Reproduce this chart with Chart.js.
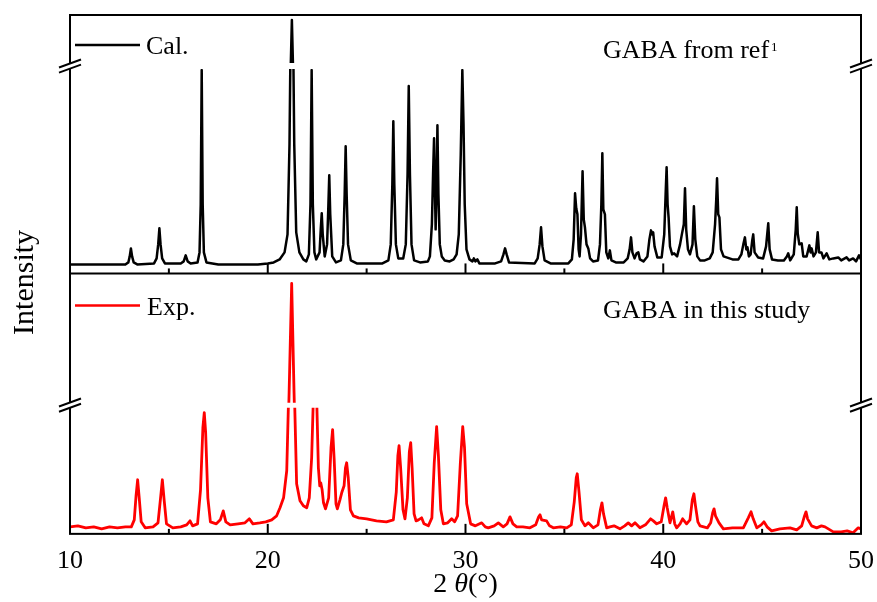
<!DOCTYPE html>
<html><head><meta charset="utf-8">
<script src="https://cdn.jsdelivr.net/npm/chart.js@4.4.1/dist/chart.umd.min.js"></script>
<style>html,body{margin:0;padding:0;background:#fff;}#wrap{width:877px;height:602px;}</style>
</head><body><div id="wrap"><canvas id="c" width="877" height="602"></canvas></div>
<script>
// ---- data (2θ in degrees, intensity in arbitrary units) ----
const calTheta = [10.0,12.8,12.95,13.02,13.08,13.14,13.22,13.4,14.25,14.38,14.46,14.52,14.58,14.66,14.8,15.6,15.75,15.85,15.95,16.1,16.45,16.55,16.61,16.66,16.71,16.77,16.9,17.5,19.5,20.0,20.3,20.6,20.85,21.0,21.1,21.16,21.22,21.28,21.34,21.44,21.6,21.8,21.95,22.08,22.16,22.22,22.28,22.36,22.45,22.62,22.68,22.73,22.78,22.88,23.0,23.06,23.11,23.16,23.26,23.45,23.7,23.82,23.89,23.94,23.99,24.06,24.2,24.5,25.8,26.1,26.22,26.3,26.35,26.4,26.48,26.6,26.85,26.98,27.07,27.13,27.19,27.27,27.4,27.7,28.1,28.2,28.3,28.36,28.41,28.49,28.54,28.58,28.63,28.7,28.8,28.95,29.2,29.4,29.55,29.66,29.76,29.84,29.9,29.96,30.05,30.2,30.35,30.42,30.5,30.6,30.7,31.5,31.8,31.92,32.0,32.08,32.2,33.5,33.65,33.75,33.82,33.89,34.0,34.3,35.2,35.38,35.47,35.54,35.6,35.66,35.72,35.77,35.84,35.92,35.98,36.04,36.12,36.21,36.3,36.45,36.7,36.8,36.87,36.92,36.97,37.05,37.12,37.22,37.3,37.38,37.6,38.0,38.2,38.3,38.37,38.44,38.55,38.65,38.74,38.82,39.0,39.2,39.3,39.38,39.44,39.49,39.56,39.7,39.92,40.05,40.12,40.17,40.22,40.27,40.34,40.45,40.55,40.7,40.85,40.95,41.04,41.1,41.16,41.25,41.35,41.48,41.55,41.62,41.72,41.86,42.1,42.35,42.5,42.62,42.68,42.72,42.78,42.84,42.92,43.05,43.2,43.5,43.8,43.95,44.05,44.13,44.2,44.26,44.33,44.42,44.5,44.55,44.62,44.8,45.05,45.2,45.31,45.38,45.5,45.8,46.1,46.25,46.32,46.42,46.6,46.7,46.75,46.8,46.88,47.0,47.08,47.25,47.39,47.45,47.5,47.6,47.72,47.81,47.88,48.0,48.1,48.26,48.4,48.6,48.85,49.0,49.27,49.4,49.6,49.75,49.9,50.0];
const calIntensity = [0,0,2,8,16,8,2,0,1,6,20,36,20,6,1,1,3,9,3,1,2,12,60,194,60,12,2,0,0,1,2,5,12,30,120,235,283,235,120,32,12,5,3,10,60,194,60,12,5,12,35,51,30,8,20,55,89,50,8,2,4,20,70,118,70,20,4,1,1,4,20,80,143,80,20,6,6,20,90,178,90,20,4,2,3,8,40,90,126,35,80,139,70,20,8,4,3,5,10,30,110,194,140,60,15,5,3,6,3,5,1,1,3,10,16,10,2,1,6,20,37,18,4,1,1,5,25,71,56,50,15,8,30,93,45,37,20,16,6,3,4,20,60,111,55,50,12,6,14,4,2,2,6,15,27,12,6,11,12,5,3,8,25,34,30,32,18,7,7,30,70,97,60,47,18,10,11,8,20,31,40,76,35,15,10,20,58,25,8,4,4,6,12,40,65,86,50,47,15,8,7,5,5,10,20,27,15,17,8,10,24,30,12,7,6,18,41,15,5,4,4,8,11,4,10,35,57,31,20,21,8,8,19,12,16,8,12,32,12,12,6,11,5,6,7,4,7,4,6,3,9,5];
const expTheta = [10.0,10.4,10.8,11.2,11.6,12.0,12.4,12.8,13.1,13.25,13.34,13.42,13.5,13.6,13.8,14.2,14.45,14.58,14.67,14.76,14.88,15.2,15.6,15.9,16.07,16.2,16.45,16.6,16.72,16.79,16.86,16.97,17.1,17.4,17.6,17.75,17.88,18.1,18.5,18.85,19.07,19.25,19.6,19.9,20.2,20.45,20.62,20.8,20.96,21.08,21.21,21.33,21.46,21.63,21.8,21.97,22.1,22.22,22.3,22.39,22.48,22.56,22.63,22.68,22.75,22.82,22.92,23.08,23.2,23.28,23.36,23.45,23.52,23.65,23.74,23.86,23.93,23.99,24.07,24.18,24.33,24.6,25.0,25.5,26.0,26.35,26.5,26.58,26.64,26.72,26.84,26.94,27.06,27.16,27.23,27.3,27.4,27.5,27.62,27.78,27.9,28.12,28.3,28.42,28.54,28.63,28.75,28.88,29.1,29.3,29.45,29.6,29.74,29.86,29.95,30.06,30.26,30.5,30.82,31.0,31.15,31.45,31.66,31.91,32.1,32.25,32.4,32.59,32.9,33.26,33.55,33.7,33.77,33.85,34.1,34.25,34.44,34.8,35.12,35.35,35.5,35.6,35.65,35.74,35.86,36.04,36.21,36.46,36.7,36.82,36.9,36.98,37.14,37.3,37.51,37.81,38.05,38.23,38.4,38.57,38.82,39.1,39.36,39.5,39.67,39.9,40.04,40.12,40.2,40.34,40.48,40.58,40.68,40.85,40.98,41.18,41.35,41.47,41.55,41.63,41.75,41.86,42.23,42.4,42.5,42.57,42.64,42.82,43.04,43.5,44.05,44.3,44.44,44.55,44.73,44.95,45.09,45.25,45.48,45.9,46.41,46.75,47.0,47.13,47.22,47.3,47.5,47.76,48.0,48.18,48.6,49.0,49.3,49.6,49.86,50.0];
const expIntensity = [1,2,0,1,-1,1,0,1,1,8,32,48,30,6,0,1,5,30,48,28,4,0,1,3,7,2,4,38,100,115,95,30,6,4,8,17,6,3,4,5,9,4,5,6,8,12,20,30,57,150,259,150,44,27,22,20,30,70,125,135,125,60,42,45,38,25,19,30,80,98,68,24,19,28,35,42,60,65,50,18,12,10,9,7,6,8,36,72,82,60,18,9,30,76,85,60,14,7,8,10,4,2,10,65,101,72,18,4,5,9,6,12,65,101,80,24,4,2,5,1,0,2,5,1,4,11,4,1,1,0,3,11,13,8,7,2,0,1,0,3,26,50,54,36,8,2,5,0,3,18,25,14,0,1,2,-1,2,5,2,5,0,3,9,7,4,6,22,30,20,5,16,4,0,4,9,4,8,28,34,22,6,2,0,5,15,19,12,5,-1,0,0,10,16,9,0,3,6,1,-3,-1,0,-2,2,11,16,9,2,0,2,1,-4,-4,-3,-5,0,-1];
const xMajorTicks = [10, 20, 30, 40, 50];
const xMinorTicks = [15, 25, 35, 45];
const seriesNames = ['Cal.', 'Exp.'];
const panelNotes = ['GABA from ref', 'GABA in this study'];
const noteSuperscript = '1';
const xTitleParts = ['2 ', 'θ', '(°)'];
const yTitle = 'Intensity';
// broken y ranges of each panel: [low part], [high part]
const calLowRange = [-9, 195];
const calHighRange = [240, 288];
const expLowRange = [-6, 120];
const expHighRange = [140, 269];

const SERIF = "'Liberation Serif', 'Times New Roman', serif";
const pts = (xs, ys) => xs.map((t, i) => ({x: t, y: ys[i]}));
const calPts = pts(calTheta, calIntensity);
const expPts = pts(expTheta, expIntensity);

function line(ctx, x1, y1, x2, y2) { ctx.beginPath(); ctx.moveTo(x1, y1); ctx.lineTo(x2, y2); ctx.stroke(); }
function brk(ctx, cx, cy) {
  const hw = 11, rise = 4, off = 2.6;
  ctx.save();
  ctx.fillStyle = '#fff';
  ctx.beginPath();
  ctx.moveTo(cx - hw, cy + rise - off); ctx.lineTo(cx + hw, cy - rise - off);
  ctx.lineTo(cx + hw, cy - rise + off); ctx.lineTo(cx - hw, cy + rise + off);
  ctx.closePath(); ctx.fill();
  ctx.strokeStyle = '#000'; ctx.lineWidth = 2;
  line(ctx, cx - hw, cy + rise - off, cx + hw, cy - rise - off);
  line(ctx, cx - hw, cy + rise + off, cx + hw, cy - rise + off);
  ctx.restore();
}

const decor = {
  id: 'decor',
  afterDatasetsDraw(chart) {
    const {ctx, chartArea: a, scales} = chart;
    const xs = scales.x;
    const mid = scales.yTopLow.bottom;
    ctx.save();
    ctx.strokeStyle = '#000'; ctx.lineWidth = 2; ctx.lineCap = 'butt';
    ctx.strokeRect(a.left, a.top, a.right - a.left, a.bottom - a.top);
    line(ctx, a.left, mid, a.right, mid);
    for (const t of xMajorTicks.concat(xMinorTicks)) {
      const px = xs.getPixelForValue(t);
      const len = xMajorTicks.includes(t) ? 10 : 5;
      line(ctx, px, a.bottom, px, a.bottom - len);
      line(ctx, px, mid, px, mid - len);
    }
    const g1 = (scales.gap1.top + scales.gap1.bottom) / 2;
    const g2 = (scales.gap2.top + scales.gap2.bottom) / 2;
    brk(ctx, a.left, g1); brk(ctx, a.right, g1);
    brk(ctx, a.left, g2); brk(ctx, a.right, g2);

    // legends
    ctx.font = '26px ' + SERIF; ctx.textBaseline = 'alphabetic'; ctx.textAlign = 'left';
    ctx.strokeStyle = '#000'; ctx.lineWidth = 2.5;
    line(ctx, a.left + 5, a.top + 30, a.left + 70, a.top + 30);
    ctx.fillStyle = '#000';
    ctx.fillText(seriesNames[0], a.left + 76, a.top + 39);
    ctx.strokeStyle = '#ff0000'; ctx.lineWidth = 2.5;
    line(ctx, a.left + 5, mid + 32, a.left + 70, mid + 32);
    ctx.fillText(seriesNames[1], a.left + 77, mid + 42);
    // notes
    ctx.fillText(panelNotes[0], 603, a.top + 43);
    const w0 = ctx.measureText(panelNotes[0]).width;
    ctx.font = '13px ' + SERIF;
    ctx.fillText(noteSuperscript, 603 + w0 + 2, a.top + 36);
    ctx.font = '26px ' + SERIF;
    ctx.fillText(panelNotes[1], 603, mid + 45);

    // x title
    const fN = '28px ' + SERIF, fI = 'italic 28px ' + SERIF;
    const fonts = [fN, fI, fN];
    let widths = xTitleParts.map((s, i) => { ctx.font = fonts[i]; return ctx.measureText(s).width; });
    let tx = (a.left + a.right) / 2 - widths.reduce((p, c) => p + c, 0) / 2;
    xTitleParts.forEach((s, i) => { ctx.font = fonts[i]; ctx.fillText(s, tx, 592); tx += widths[i]; });

    // y title
    ctx.translate(33, (a.top + a.bottom) / 2 + 8);
    ctx.rotate(-Math.PI / 2);
    ctx.font = '30px ' + SERIF; ctx.textAlign = 'center';
    ctx.fillText(yTitle, 0, 0);
    ctx.restore();
  }
};

const hidden = {display: false};
function yAxis(range, weight, stackWeight) {
  return {type: 'linear', display: false, position: 'left', stack: 'all', stackWeight,
          weight, min: range[0], max: range[1]};
}
const dsBase = {parsing: false, pointRadius: 0, tension: 0, borderJoinStyle: 'round', fill: false};

new Chart(document.getElementById('c'), {
  type: 'line',
  data: {
    datasets: [
      Object.assign({label: seriesNames[0], data: calPts, yAxisID: 'yTopUp', borderColor: '#000', borderWidth: 2.5}, dsBase),
      Object.assign({label: seriesNames[0], data: calPts, yAxisID: 'yTopLow', borderColor: '#000', borderWidth: 2.5}, dsBase),
      Object.assign({label: seriesNames[1], data: expPts, yAxisID: 'yBotUp', borderColor: '#ff0000', borderWidth: 2.8}, dsBase),
      Object.assign({label: seriesNames[1], data: expPts, yAxisID: 'yBotLow', borderColor: '#ff0000', borderWidth: 2.8}, dsBase)
    ]
  },
  options: {
    responsive: false, animation: false, devicePixelRatio: 1,
    layout: {padding: {left: 70, right: 7, top: 15, bottom: 13}},
    plugins: {legend: hidden, tooltip: {enabled: false}},
    scales: {
      x: {type: 'linear', min: 10, max: 50, position: 'bottom',
          grid: {display: false, drawTicks: false, tickLength: 0}, border: {display: false},
          ticks: {stepSize: 10, autoSkip: false, maxRotation: 0, padding: 3, color: '#000',
                  font: {family: SERIF, size: 26, lineHeight: 1.89}}},
      yTopUp: yAxis(calHighRange, 6, 48),
      gap1: yAxis([0, 1], 5, 6),
      yTopLow: yAxis(calLowRange, 4, 204),
      yBotUp: yAxis(expHighRange, 3, 129),
      gap2: yAxis([0, 1], 2, 5),
      yBotLow: yAxis(expLowRange, 1, 126)
    }
  },
  plugins: [decor]
});
</script></body></html>
